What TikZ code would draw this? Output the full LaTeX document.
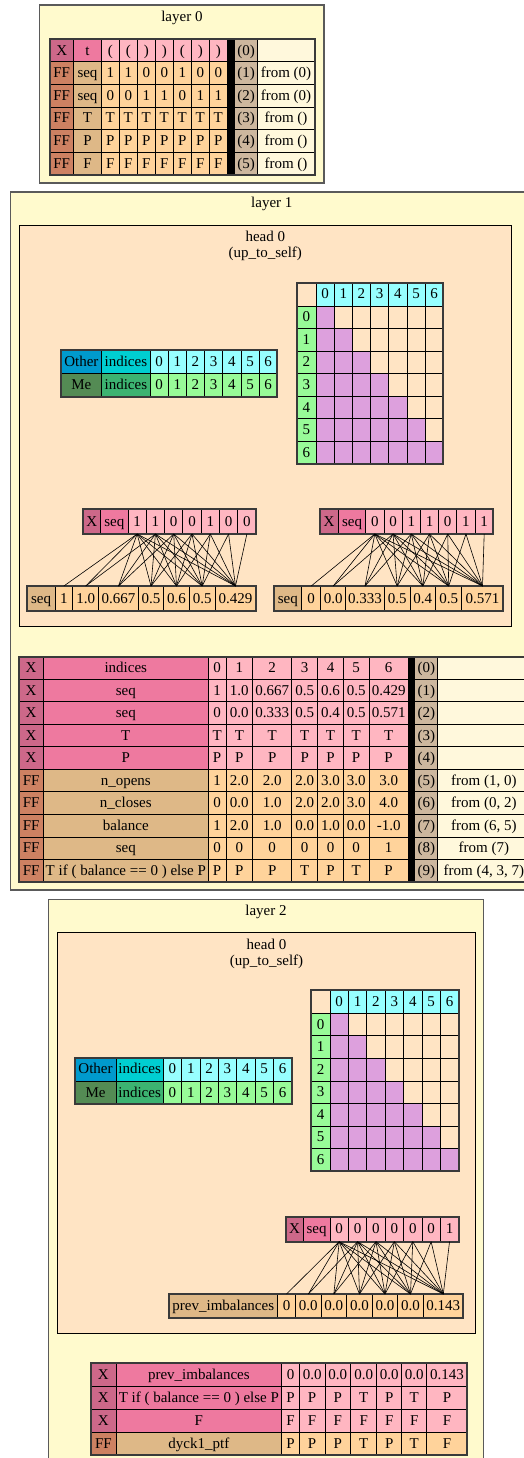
\documentclass[tikz,border=0pt]{standalone}
\usepackage{fontspec}
\setmainfont{Liberation Serif}
\definecolor{layerbg}{HTML}{FFFACD}
\definecolor{headbg}{HTML}{FFE4C4}
\definecolor{frameline}{HTML}{5A5A5A}
\definecolor{tabline}{HTML}{3A3A3A}
\definecolor{Xkey}{HTML}{CD6889}
\definecolor{Xname}{HTML}{EE799F}
\definecolor{Xval}{HTML}{FFB6C1}
\definecolor{FFkey}{HTML}{CD8162}
\definecolor{FFname}{HTML}{DEB887}
\definecolor{FFval}{HTML}{FFD39B}
\definecolor{idxbg}{HTML}{CDB79E}
\definecolor{srcbg}{HTML}{FFF8DC}
\definecolor{otherkey}{HTML}{009ACD}
\definecolor{othername}{HTML}{00CED1}
\definecolor{otherval}{HTML}{97FFFF}
\definecolor{mekey}{HTML}{548B54}
\definecolor{mename}{HTML}{3CB371}
\definecolor{meval}{HTML}{98FB98}
\definecolor{maskon}{HTML}{DDA0DD}
\tikzset{
  cell/.style={rectangle, draw=black, line width=0.8pt, inner sep=0pt, outer sep=0pt, text height=11pt, text depth=2pt},
  tabframe/.style={draw=tabline, line width=1.8pt},
  layerbox/.style={draw=frameline, line width=1.3pt, fill=layerbg},
  headbox/.style={draw=black, line width=1pt, fill=headbg},
  title/.style={align=center},
  attn/.style={line width=0.6pt}
}
\newcommand{\cellbox}[7][]{%
  \node[cell, #1, minimum width={(#5)-(#3)}, minimum height={(#6)-(#4)}]
    (#2) at ({((#3)+(#5))/2}, {((#4)+(#6))/2}) {#7};}
\newcommand{\evencells}[7]{%
  \edef\vlist{#7}%
  \foreach \val [count=\ci from 0] in \vlist
    {\cellbox[fill=#6]{#1\ci}{#2+#3*\ci}{#4}{#2+#3*(\ci+1)}{#5}{\val}}}
\newcommand{\valcells}[6]{%
  \edef\vlist{#6}%
  \foreach \val [count=\ci from 0] in \vlist {%
    \pgfmathsetmacro\xa{#2[\ci]}%
    \pgfmathsetmacro\xb{#2[\ci+1]}%
    \cellbox[fill=#5]{#1\ci}{\xa}{#3}{\xb}{#4}{\val}}}
\newcommand{\maskgrid}[7]{%
  \cellbox[fill=headbg]{#1c}{#2}{#5}{#3}{#6}{}
  \foreach \ci in {0,...,6} {
    \cellbox[fill=otherval]{#1h\ci}{#3+#4*\ci}{#5}{#3+#4*(\ci+1)}{#6}{\ci}
    \cellbox[fill=meval]{#1r\ci}{#2}{#6+#7*\ci}{#3}{#6+#7*(\ci+1)}{\ci}
    \foreach \ri in {0,...,6} {
      \ifnum\ri<\ci \def\mfill{headbg}\else\def\mfill{maskon}\fi
      \cellbox[fill=\mfill]{#1m\ri x\ci}{#3+#4*\ci}{#6+#7*\ri}{#3+#4*(\ci+1)}{#6+#7*(\ri+1)}{}
    }
  }
  \draw[tabframe] (#2,#5) rectangle ({#3+7*#4},{#6+7*#7});}
\def\colsL{{55,72.7,98.7,138.3,163.7,189.3,215,256}}
\def\colsR{{301.7,320.7,345.7,384.3,410,435.7,461.7,503.3}}
\def\colsM{{208.3,226,252.7,291.7,317.7,343.3,369,408.3}}
\def\colsP{{277.3,295.7,321,346.7,372.3,397.7,423.3,463.3}}
\def\colsF{{281.7,299.3,325,350.7,376.7,401.7,426.7,467.3}}

\begin{document}
\begin{tikzpicture}[x=1pt, y=-1pt, font=\fontsize{15}{16.5}\selectfont]
  \useasboundingbox (0,0) rectangle (523,1458);

  % layer 0
  \draw[layerbox] (39.7,5) rectangle (324,183);
  \node (lzt) at (181.9,17.5) {layer 0};
  \foreach \kind/\nm/\vals/\src [count=\ri from 0] in {
      X/t/{{(},{(},{)},{)},{(},{)},{)}}/{},
      FF/seq/{1,1,0,0,1,0,0}/{from (0)},
      FF/seq/{0,0,1,1,0,1,1}/{from (0)},
      FF/T/{T,T,T,T,T,T,T}/{from ()},
      FF/P/{P,P,P,P,P,P,P}/{from ()},
      FF/F/{F,F,F,F,F,F,F}/{from ()}} {
    \pgfmathsetmacro\ya{39.3+22.6*\ri}
    \pgfmathsetmacro\yb{\ya+22.6}
    \cellbox[fill=\kind key]{Lz\ri k}{49.7}{\ya}{73.7}{\yb}{\kind}
    \cellbox[fill=\kind name]{Lz\ri n}{73.7}{\ya}{101.3}{\yb}{\nm}
    \evencells{Lz\ri v}{101.3}{18}{\ya}{\yb}{\kind val}{\vals}
    \cellbox[fill=idxbg]{Lz\ri i}{234.7}{\ya}{257.3}{\yb}{(\ri)}
    \cellbox[fill=srcbg]{Lz\ri s}{257.3}{\ya}{314.7}{\yb}{\src}
  }
  \cellbox[fill=black]{Lzbar}{227.3}{39.3}{234.7}{174.9}{}
  \draw[tabframe] (49.7,39.3) rectangle (314.7,174.9);

  % layer 1
  \draw[layerbox] (10.7,192) rectangle (533,890);
  \node (lot) at (271.8,203.5) {layer 1};
  \draw[headbox] (19,225.5) rectangle (511.7,626.7);
  \node[title] (loh) at (265.3,246) {head 0\\(up\_to\_self)};
  \foreach \who/\tone [count=\ri from 0] in {Other/other, Me/me} {
    \pgfmathsetmacro\ya{350+23.5*\ri}
    \pgfmathsetmacro\yb{\ya+23.5}
    \cellbox[fill=\tone key]{Los\ri k}{61}{\ya}{101.7}{\yb}{\who}
    \cellbox[fill=\tone name]{Los\ri n}{101.7}{\ya}{150}{\yb}{indices}
    \evencells{Los\ri v}{150}{18.19}{\ya}{\yb}{\tone val}{0,1,2,3,4,5,6}
  }
  \draw[tabframe] (61,350) rectangle (277.3,397);
  \maskgrid{Lom}{296.7}{316}{18.19}{282.7}{306}{22.57}

  \cellbox[fill=Xkey]{LoaXk}{82.7}{509.3}{100.7}{534}{X}
  \cellbox[fill=Xname]{LoaXn}{100.7}{509.3}{128}{534}{seq}
  \evencells{Loaq}{128}{18.29}{509.3}{534}{Xval}{1,1,0,0,1,0,0}
  \draw[tabframe] (82.7,509.3) rectangle (256,534);
  \cellbox[fill=FFname]{Loaon}{27.3}{586}{55}{611}{seq}
  \valcells{Loao}{\colsL}{586}{611}{FFval}{1,1.0,0.667,0.5,0.6,0.5,0.429}
  \draw[tabframe] (27.3,586) rectangle (256,611);
  \foreach \i in {0,...,6} \foreach \j in {0,...,\i} \draw[attn] (Loaq\j.south) -- (Loao\i.north);

  \cellbox[fill=Xkey]{LobXk}{320}{509.3}{338.3}{534}{X}
  \cellbox[fill=Xname]{LobXn}{338.3}{509.3}{365.7}{534}{seq}
  \evencells{Lobq}{365.7}{18.23}{509.3}{534}{Xval}{0,0,1,1,0,1,1}
  \draw[tabframe] (320,509.3) rectangle (493.3,534);
  \cellbox[fill=FFname]{Lobon}{274}{586}{301.7}{611}{seq}
  \valcells{Lobo}{\colsR}{586}{611}{FFval}{0,0.0,0.333,0.5,0.4,0.5,0.571}
  \draw[tabframe] (274,586) rectangle (503.3,611);
  \foreach \i in {0,...,6} \foreach \j in {0,...,\i} \draw[attn] (Lobq\j.south) -- (Lobo\i.north);

  \foreach \kind/\nm/\vals/\src [count=\ri from 0] in {
      X/indices/{0,1,2,3,4,5,6}/{},
      X/seq/{1,1.0,0.667,0.5,0.6,0.5,0.429}/{},
      X/seq/{0,0.0,0.333,0.5,0.4,0.5,0.571}/{},
      X/T/{T,T,T,T,T,T,T}/{},
      X/P/{P,P,P,P,P,P,P}/{},
      FF/n\_opens/{1,2.0,2.0,2.0,3.0,3.0,3.0}/{from (1, 0)},
      FF/n\_closes/{0,0.0,1.0,2.0,2.0,3.0,4.0}/{from (0, 2)},
      FF/balance/{1,2.0,1.0,0.0,1.0,0.0,-1.0}/{from (6, 5)},
      FF/seq/{0,0,0,0,0,0,1}/{from (7)},
      FF/{T if ( balance == 0 ) else P}/{P,P,P,T,P,T,P}/{from (4, 3, 7)}} {
    \pgfmathsetmacro\ya{656.7+22.53*\ri}
    \pgfmathsetmacro\yb{\ya+22.53}
    \cellbox[fill=\kind key]{Lo\ri k}{19}{\ya}{43.3}{\yb}{\kind}
    \cellbox[fill=\kind name]{Lo\ri n}{43.3}{\ya}{208.3}{\yb}{\nm}
    \valcells{Lo\ri v}{\colsM}{\ya}{\yb}{\kind val}{\vals}
    \cellbox[fill=idxbg]{Lo\ri i}{414.7}{\ya}{437.8}{\yb}{(\ri)}
    \cellbox[fill=srcbg]{Lo\ri s}{437.8}{\ya}{530}{\yb}{\src}
  }
  \cellbox[fill=black]{Lobar}{408.3}{656.7}{414.7}{882}{}
  \draw[tabframe] (19,656.7) rectangle (530,882);

  % layer 2
  \draw[layerbox] (48.3,899.3) rectangle (483.7,1475);
  \node (ltt) at (266,911.7) {layer 2};
  \draw[headbox] (57.3,932.3) rectangle (475.7,1333.3);
  \node[title] (lth) at (266.5,954) {head 0\\(up\_to\_self)};
  \foreach \who/\tone [count=\ri from 0] in {Other/other, Me/me} {
    \pgfmathsetmacro\ya{1057.7+23.3*\ri}
    \pgfmathsetmacro\yb{\ya+23.3}
    \cellbox[fill=\tone key]{Lts\ri k}{75}{\ya}{116}{\yb}{\who}
    \cellbox[fill=\tone name]{Lts\ri n}{116}{\ya}{163.3}{\yb}{indices}
    \evencells{Lts\ri v}{163.3}{18.34}{\ya}{\yb}{\tone val}{0,1,2,3,4,5,6}
  }
  \draw[tabframe] (75,1057.7) rectangle (291.7,1104.3);
  \maskgrid{Ltm}{311}{330}{18.39}{990}{1013.3}{22.57}

  \cellbox[fill=Xkey]{LtaXk}{285.7}{1216.7}{303.3}{1241.7}{X}
  \cellbox[fill=Xname]{LtaXn}{303.3}{1216.7}{330}{1241.7}{seq}
  \evencells{Ltaq}{330}{18.39}{1216.7}{1241.7}{Xval}{0,0,0,0,0,0,1}
  \draw[tabframe] (285.7,1216.7) rectangle (458.7,1241.7);
  \cellbox[fill=FFname]{Ltaon}{169.3}{1294}{277.3}{1317.7}{prev\_imbalances}
  \valcells{Ltao}{\colsP}{1294}{1317.7}{FFval}{0,0.0,0.0,0.0,0.0,0.0,0.143}
  \draw[tabframe] (169.3,1294) rectangle (463.3,1317.7);
  \foreach \i in {0,...,6} \foreach \j in {0,...,\i} \draw[attn] (Ltaq\j.south) -- (Ltao\i.north);

  \foreach \kind/\nm/\vals [count=\ri from 0] in {
      X/prev\_imbalances/{0,0.0,0.0,0.0,0.0,0.0,0.143},
      X/{T if ( balance == 0 ) else P}/{P,P,P,T,P,T,P},
      X/F/{F,F,F,F,F,F,F},
      FF/dyck1\_ptf/{P,P,P,T,P,T,F}} {
    \pgfmathsetmacro\ya{1363.3+22.93*\ri}
    \pgfmathsetmacro\yb{\ya+22.93}
    \cellbox[fill=\kind key]{Lt\ri k}{90.7}{\ya}{116}{\yb}{\kind}
    \cellbox[fill=\kind name]{Lt\ri n}{116}{\ya}{281.7}{\yb}{\nm}
    \valcells{Lt\ri v}{\colsF}{\ya}{\yb}{\kind val}{\vals}
  }
  \draw[tabframe] (90.7,1363.3) rectangle (467.3,1455);
\end{tikzpicture}
\end{document}
